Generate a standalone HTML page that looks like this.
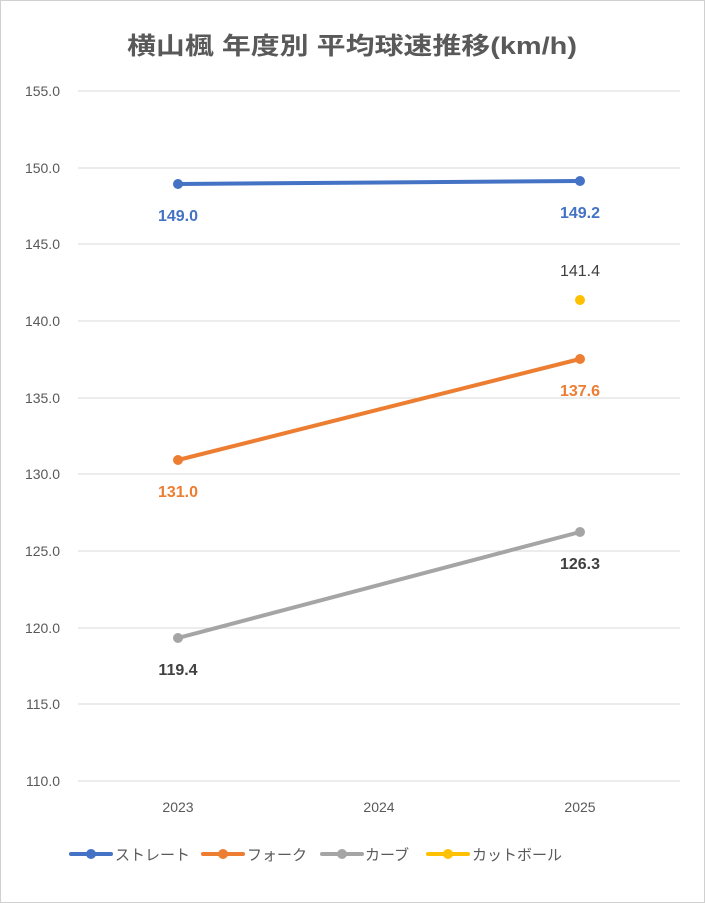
<!DOCTYPE html>
<html><head><meta charset="utf-8"><style>
html,body{margin:0;padding:0;background:#fff}
svg{display:block;font-family:"Liberation Sans","Noto Sans CJK JP",sans-serif}
</style></head><body>
<svg width="705" height="903" viewBox="0 0 705 903">
<rect x="0.5" y="0.5" width="704" height="902" fill="#fff" stroke="#d0d0d0"/>
<text x="352" y="54" text-anchor="middle" font-size="24" font-weight="bold" fill="#595959" textLength="450" lengthAdjust="spacingAndGlyphs">横山楓 年度別 平均球速推移(km/h)</text>
<g stroke="#d9d9d9" stroke-width="1">
<line x1="78" x2="680" y1="91" y2="91"/><line x1="78" x2="680" y1="168" y2="168"/>
<line x1="78" x2="680" y1="244" y2="244"/><line x1="78" x2="680" y1="321" y2="321"/>
<line x1="78" x2="680" y1="398" y2="398"/><line x1="78" x2="680" y1="474" y2="474"/>
<line x1="78" x2="680" y1="551" y2="551"/><line x1="78" x2="680" y1="628" y2="628"/>
<line x1="78" x2="680" y1="704" y2="704"/><line x1="78" x2="680" y1="781" y2="781"/>
</g>
<g font-size="14" fill="#595959" text-anchor="end">
<text x="60" y="96">155.0</text><text x="60" y="173">150.0</text><text x="60" y="249">145.0</text>
<text x="60" y="326">140.0</text><text x="60" y="403">135.0</text><text x="60" y="479">130.0</text>
<text x="60" y="556">125.0</text><text x="60" y="633">120.0</text><text x="60" y="709">115.0</text>
<text x="60" y="786">110.0</text>
</g>
<g font-size="14" fill="#595959" text-anchor="middle">
<text x="178" y="812">2023</text><text x="379" y="812">2024</text><text x="580" y="812">2025</text>
</g>
<g stroke-width="4" stroke-linecap="round">
<line x1="178" y1="184" x2="580" y2="181" stroke="#4472c4"/>
<line x1="178" y1="460" x2="580" y2="359" stroke="#ed7d31"/>
<line x1="178" y1="638" x2="580" y2="532" stroke="#a5a5a5"/>
</g>
<circle cx="178" cy="184" r="5" fill="#4472c4"/><circle cx="580" cy="181" r="5" fill="#4472c4"/>
<circle cx="178" cy="460" r="5" fill="#ed7d31"/><circle cx="580" cy="359" r="5" fill="#ed7d31"/>
<circle cx="178" cy="638" r="5" fill="#a5a5a5"/><circle cx="580" cy="532" r="5" fill="#a5a5a5"/>
<circle cx="580" cy="300" r="5" fill="#ffc000"/>
<g font-size="16" text-anchor="middle" font-weight="bold">
<text x="178" y="221" fill="#4472c4">149.0</text><text x="580" y="218" fill="#4472c4">149.2</text>
<text x="580" y="276" fill="#404040" font-weight="normal">141.4</text>
<text x="178" y="497" fill="#ed7d31">131.0</text><text x="580" y="396" fill="#ed7d31">137.6</text>
<text x="178" y="675" fill="#404040">119.4</text><text x="580" y="569" fill="#404040">126.3</text>
</g>
<g stroke-width="4" stroke-linecap="round">
<line x1="71" x2="111" y1="854" y2="854" stroke="#4472c4"/>
<line x1="203" x2="243" y1="854" y2="854" stroke="#ed7d31"/>
<line x1="322" x2="362" y1="854" y2="854" stroke="#a5a5a5"/>
<line x1="428" x2="468" y1="854" y2="854" stroke="#ffc000"/>
</g>
<circle cx="91" cy="854" r="5" fill="#4472c4"/><circle cx="223" cy="854" r="5" fill="#ed7d31"/>
<circle cx="342" cy="854" r="5" fill="#a5a5a5"/><circle cx="448" cy="854" r="5" fill="#ffc000"/>
<g font-size="15" fill="#595959">
<text x="115" y="860">ストレート</text><text x="247" y="860">フォーク</text>
<text x="365" y="860">カーブ</text><text x="472" y="860">カットボール</text>
</g>
</svg>
</body></html>
